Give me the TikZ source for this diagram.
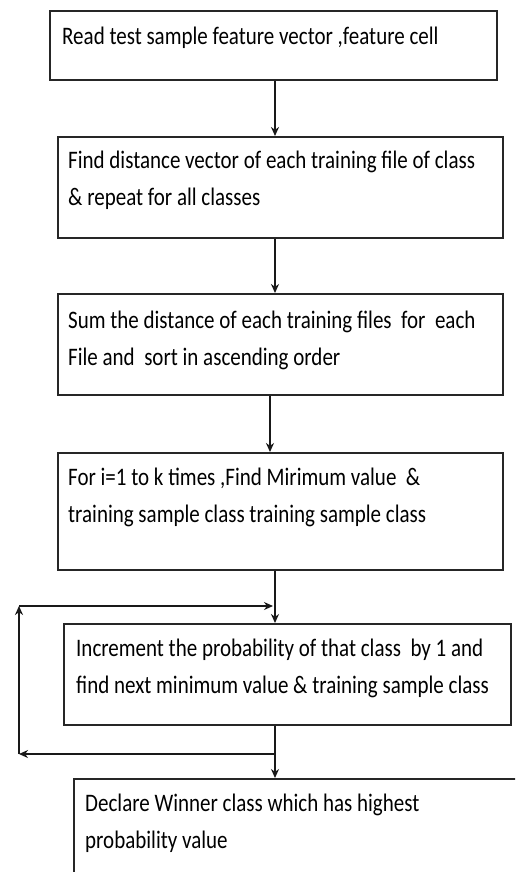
\documentclass[tikz,border=0pt]{standalone}
\usepackage{fontspec}
\setmainfont{Carlito}
\usetikzlibrary{arrows.meta}
\tikzset{
  box/.style={draw=black!85, line width=1.7pt, inner sep=0pt, anchor=north west},
  txt/.style={inner sep=0pt, anchor=base west, align=left,
    font=\fontsize{21}{30.8}\selectfont, yscale=1.2, transform shape},
  tip/.tip={Stealth[length=9pt,width=8pt]},
  arr/.style={draw=black!90, line width=2pt, -tip},
  loopline/.style={draw=black!90, line width=2.6pt},
  looparr/.style={loopline, -tip}
}
\begin{document}
\begin{tikzpicture}[x=1pt,y=-1pt]
\useasboundingbox (0,0) rectangle (515,872);
\clip (0,0) rectangle (515,872);
\fill[white] (0,0) rectangle (515,872);
% boxes
\node[box, minimum width=447pt, minimum height=69pt]  (b1) at (49,10)  {};
\node[box, minimum width=445pt, minimum height=101pt] (b2) at (57,136) {};
\node[box, minimum width=445pt, minimum height=101pt] (b3) at (57,293) {};
\node[box, minimum width=445pt, minimum height=117pt] (b4) at (57,452) {};
\node[box, minimum width=447pt, minimum height=101pt] (b5) at (63,623) {};
\node[box, minimum width=470pt, minimum height=120pt] (b6) at (73,778) {};
% texts (anchored at the baseline of the last line)
\node[txt] (t1) at (62,45)  {Read test sample feature vector ,feature cell};
\node[txt] (t2) at (68,205) {Find distance vector of each training file of class\\\& repeat for all classes};
\node[txt] (t3) at (68,365) {Sum the distance of each training files \ for \ each\\File and \ sort in ascending order};
\node[txt] (t4) at (68,522) {For i=1 to k times ,Find Mirimum value \ \&\\training sample class training sample class};
\node[txt] (t5) at (76,693) {Increment the probability of that class \ by 1 and\\find next minimum value \& training sample class};
\node[txt] (t6) at (85,848) {Declare Winner class which has highest\\probability value};
% junction coordinates
\coordinate (jb) at (275,754);
\coordinate (lt) at (19,606);
\coordinate (lb) at (19,754);
\coordinate (lte) at (273,606);
% connectors
\draw[arr] (b1.south -| 275,0) -- (b2.north -| 275,0);
\draw[arr] (b2.south -| 275,0) -- (b3.north -| 275,0);
\draw[arr] (b3.south -| 270,0) -- (b4.north -| 270,0);
\draw[arr] (b4.south -| 275,0) -- (b5.north -| 275,0);
\draw[arr] (b5.south -| 275,0) -- (b6.north -| 275,0);
\draw[looparr] (jb) -- (lb);
\draw[looparr] (lb) -- (lt);
\draw[looparr] (lt) -- (lte);
\end{tikzpicture}
\end{document}
